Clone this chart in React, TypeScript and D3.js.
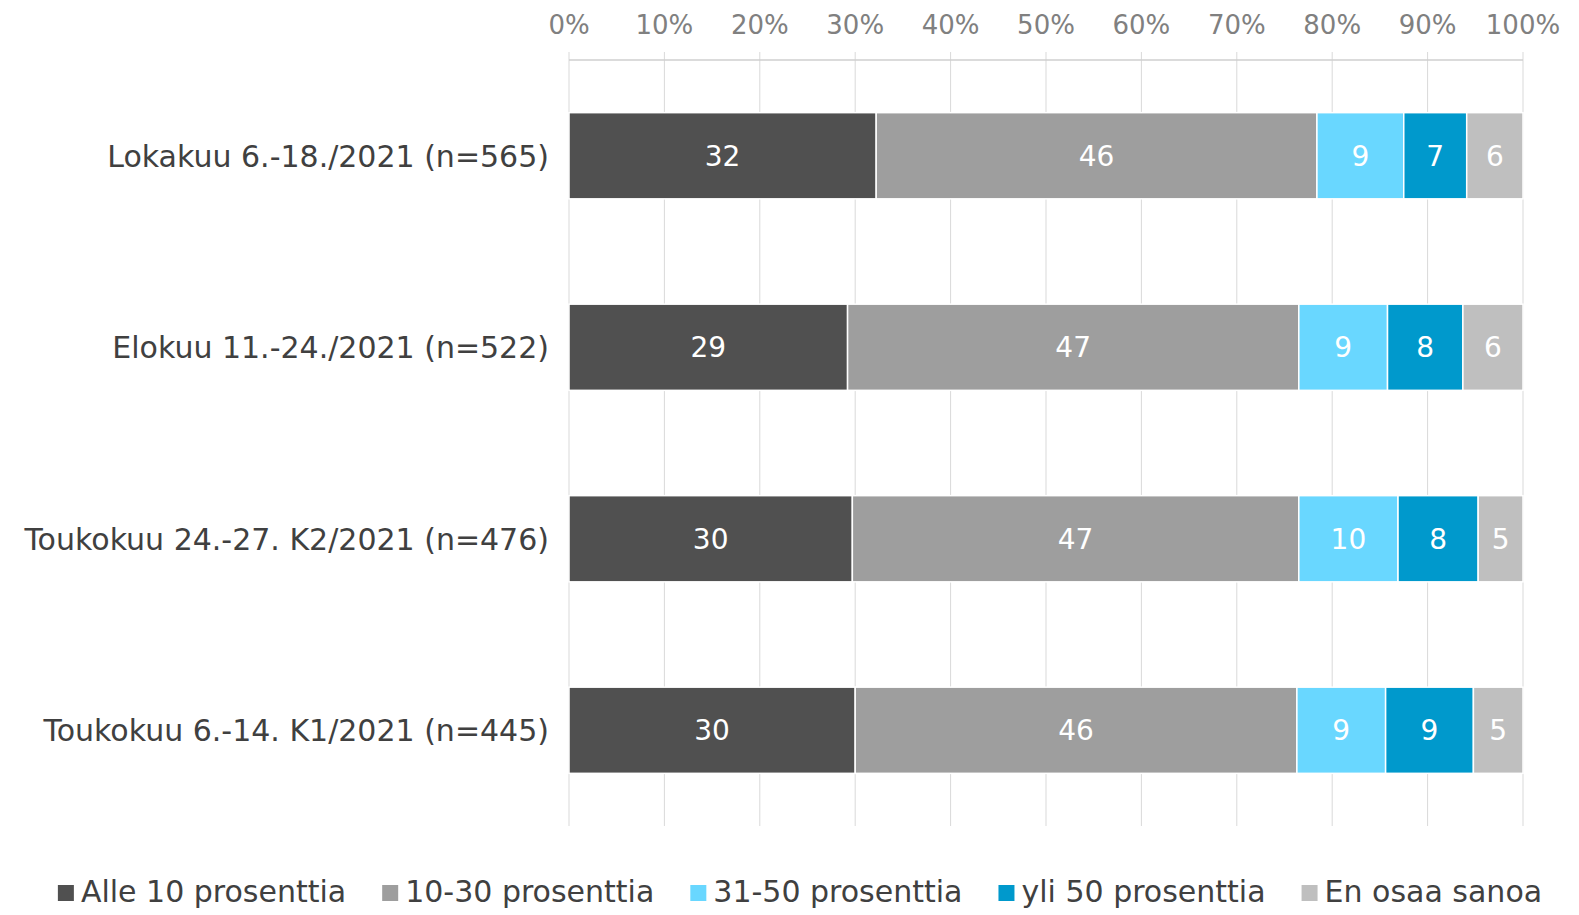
import React, { useEffect, useRef } from "react";
import * as d3 from "d3";

const categories = [
  "Lokakuu 6.-18./2021 (n=565)",
  "Elokuu 11.-24./2021 (n=522)",
  "Toukokuu 24.-27. K2/2021 (n=476)",
  "Toukokuu 6.-14. K1/2021 (n=445)",
];
const seriesNames = [
  "Alle 10 prosenttia",
  "10-30 prosenttia",
  "31-50 prosenttia",
  "yli 50 prosenttia",
  "En osaa sanoa",
];
const seriesColors = ["#505050", "#9e9e9e", "#69d7ff", "#0099cc", "#bfbfbf"];
const alle10 = [32.2, 29.2, 29.7, 30.0];
const p10to30 = [46.2, 47.3, 46.8, 46.3];
const p31to50 = [9.1, 9.3, 10.4, 9.3];
const yli50 = [6.6, 7.9, 8.4, 9.2];
const eos = [5.9, 6.3, 4.7, 5.2];
const tickValues = [0, 10, 20, 30, 40, 50, 60, 70, 80, 90, 100];

const W = 1579;
const H = 915;
const FONT = "Verdana, 'DejaVu Sans', sans-serif";

export default function App() {
  const ref = useRef<SVGSVGElement>(null);
  useEffect(() => {
    document.body.style.margin = "0";
    document.body.style.overflow = "hidden";
    document.documentElement.style.overflow = "hidden";
    const svg = d3.select(ref.current);
    svg.selectAll("*").remove();
    const series = [alle10, p10to30, p31to50, yli50, eos];
    const x = d3.scaleLinear().domain([0, 100]).range([569, 1523]);
    const y = d3.scaleBand().domain(categories).range([60, 826]).paddingInner(0.55).paddingOuter(0.275);

    // gridlines
    svg.append("g").selectAll("line").data(tickValues).join("line")
      .attr("x1", (d) => x(d)).attr("x2", (d) => x(d))
      .attr("y1", 52).attr("y2", 826)
      .attr("stroke", "#d9d9d9").attr("stroke-width", 1);
    svg.append("line").attr("x1", x(0)).attr("x2", x(100)).attr("y1", 60).attr("y2", 60)
      .attr("stroke", "#cfcfcf").attr("stroke-width", 1.5);
    svg.append("g").selectAll("text").data(tickValues).join("text")
      .attr("x", (d) => x(d)).attr("y", 34).attr("text-anchor", "middle")
      .attr("font-family", FONT).attr("font-size", 26).attr("fill", "#808080")
      .text((d) => d + "%");

    // bars
    categories.forEach((c, i) => {
      let acc = 0;
      series.forEach((s, j) => {
        const v = s[i];
        const x0 = x(acc);
        const x1 = x(acc + v);
        acc += v;
        svg.append("rect").attr("x", x0).attr("width", x1 - x0)
          .attr("y", y(c)!).attr("height", y.bandwidth())
          .attr("fill", seriesColors[j]).attr("stroke", "#ffffff").attr("stroke-width", 1.5);
        svg.append("text").attr("x", (x0 + x1) / 2).attr("y", y(c)! + y.bandwidth() / 2 + 10)
          .attr("text-anchor", "middle").attr("font-family", FONT).attr("font-size", 28)
          .attr("fill", "#ffffff").text(String(Math.round(v)));
      });
      svg.append("text").attr("x", 549).attr("y", y(c)! + y.bandwidth() / 2 + 11)
        .attr("text-anchor", "end").attr("font-family", FONT).attr("font-size", 30)
        .attr("fill", "#404040").text(c);
    });

    // legend
    const lg = svg.append("g");
    const items: { g: any; w: number }[] = [];
    seriesNames.forEach((n, j) => {
      const g = lg.append("g");
      g.append("rect").attr("x", 0).attr("y", -17).attr("width", 16).attr("height", 16).attr("fill", seriesColors[j]);
      const t = g.append("text").attr("x", 23).attr("y", 0).attr("font-family", FONT)
        .attr("font-size", 30).attr("fill", "#404040").text(n);
      const tw = (t.node() as SVGTextElement).getComputedTextLength();
      items.push({ g, w: 23 + tw });
    });
    const gap = 36;
    const total = d3.sum(items, (d) => d.w) + gap * (items.length - 1);
    let cx = 800 - total / 2;
    items.forEach((it) => {
      it.g.attr("transform", `translate(${cx},902)`);
      cx += it.w + gap;
    });
  }, []);
  return (
    <svg
      ref={ref}
      viewBox={`0 0 ${W} ${H}`}
      preserveAspectRatio="none"
      style={{ display: "block", position: "fixed", left: 0, top: 0, width: "100vw", height: "100vh", background: "#fff" }}
    />
  );
}
